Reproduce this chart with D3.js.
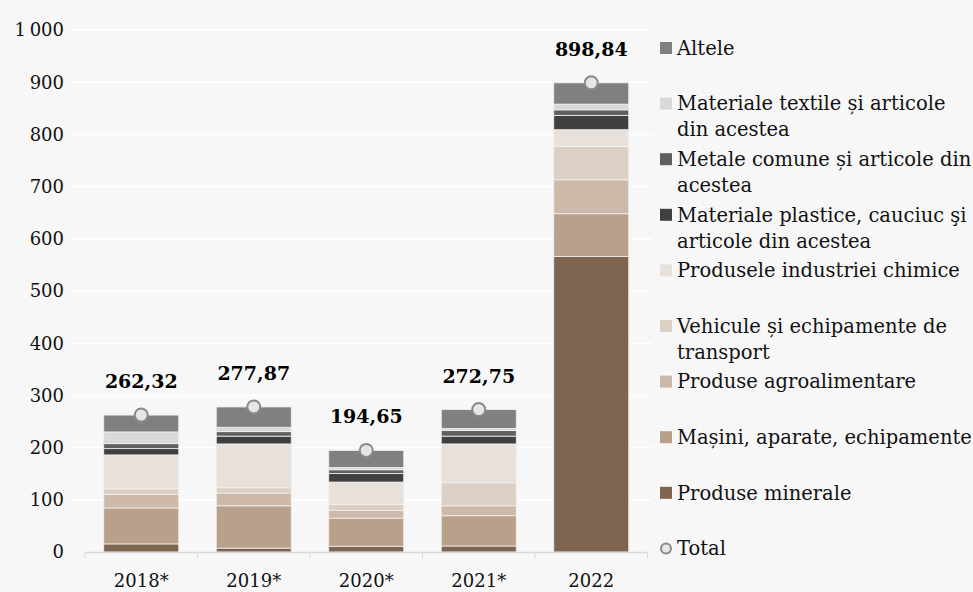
<!DOCTYPE html>
<html>
<head>
<meta charset="utf-8">
<script src="https://cdn.jsdelivr.net/npm/d3@7"></script>
<style>
  body { margin:0; background:#f7f7f7; }
  svg { display:block; font-family:'DejaVu Serif', serif; }
</style>
</head>
<body>
<div id="canvas"></div>
<script>
var years = ['2018*', '2019*', '2020*', '2021*', '2022'];
var totals = [262.32, 277.87, 194.65, 272.75, 898.84];

// stack order, bottom to top
var categories = [
  'Produse minerale',
  'Mașini, aparate, echipamente',
  'Produse agroalimentare',
  'Vehicule și echipamente de transport',
  'Produsele industriei chimice',
  'Materiale plastice, cauciuc şi articole din acestea',
  'Metale comune și articole din acestea',
  'Materiale textile și articole din acestea',
  'Altele'
];
var colors = ['#7f6550', '#b9a08a', '#cdb9aa', '#dccfc4', '#e8e0da', '#404040', '#5f5f5f', '#d9d9d9', '#808080'];

var minerale  = [15.5, 7.5, 11, 11.5, 566];
var masini    = [69, 81, 54, 58, 82];
var agro      = [25.5, 24.5, 14.5, 19, 65];
var vehicule  = [11, 10, 11.5, 44, 64];
var chimice   = [65, 84, 43, 74.5, 32];
var plastice  = [12, 15, 16.5, 15, 27.5];
var metale    = [9.5, 8.5, 7, 11, 10.5];
var textile   = [22.5, 8.5, 4.5, 3.5, 11];
var altele    = [32.3, 38.87, 32.65, 36.25, 40.84];
var series = [minerale, masini, agro, vehicule, chimice, plastice, metale, textile, altele];

var yTicks = [0, 100, 200, 300, 400, 500, 600, 700, 800, 900, 1000];

var W = 973, H = 592;
var svg = d3.select('#canvas').append('svg').attr('width', W).attr('height', H);

var x = d3.scaleBand().domain(years).range([85, 647.5]).paddingInner(1/3).paddingOuter(1/6);
var y = d3.scaleLinear().domain([0, 1000]).range([552, 30]);

// grid
svg.append('g').selectAll('line').data(yTicks.slice(1)).enter().append('line')
  .attr('x1', 70).attr('x2', 652)
  .attr('y1', function(d){ return y(d); }).attr('y2', function(d){ return y(d); })
  .style('stroke', '#ffffff').style('stroke-width', 1.5);

// y axis labels
svg.append('g').selectAll('text').data(yTicks).enter().append('text')
  .attr('x', 64).attr('y', function(d){ return y(d); })
  .attr('dy', '0.35em').attr('text-anchor', 'end')
  .style('font-size', '18px').style('fill', '#111')
  .text(function(d){ return d >= 1000 ? d3.format(',')(d).replace(',', '\u2009') : d; });

// stacked data
var rows = years.map(function(yr, i){
  var r = {year: yr};
  categories.forEach(function(c, k){ r[c] = series[k][i]; });
  return r;
});
var stack = d3.stack().keys(categories)(rows);

svg.append('g').selectAll('g').data(stack).enter().append('g')
  .style('fill', function(d, i){ return colors[i]; })
  .selectAll('rect').data(function(d){ return d; }).enter().append('rect')
  .attr('x', function(d){ return x(d.data.year); })
  .attr('width', x.bandwidth())
  .attr('y', function(d){ return y(d[1]); })
  .attr('height', function(d){ return y(d[0]) - y(d[1]); })
  .style('stroke', '#f3f0ee').style('stroke-width', 0.8);

// x axis
svg.append('line').attr('x1', 85).attr('x2', 647.5).attr('y1', 552.5).attr('y2', 552.5)
  .style('stroke', '#d9d9d9').style('stroke-width', 1.5);
var bounds = years.map(function(d){ return x(d) - x.step() * x.paddingInner() / 2; });
bounds.push(647.5);
svg.append('g').selectAll('line').data(bounds).enter().append('line')
  .attr('x1', function(d){ return d; }).attr('x2', function(d){ return d; })
  .attr('y1', 552).attr('y2', 558)
  .style('stroke', '#d9d9d9').style('stroke-width', 1);
svg.append('g').selectAll('text').data(years).enter().append('text')
  .attr('x', function(d){ return x(d) + x.bandwidth() / 2; })
  .attr('y', 587).attr('text-anchor', 'middle')
  .style('font-size', '18px').style('fill', '#111')
  .text(function(d){ return d; });

// totals
svg.append('g').selectAll('circle').data(totals).enter().append('circle')
  .attr('cx', function(d, i){ return x(years[i]) + x.bandwidth() / 2; })
  .attr('cy', function(d){ return y(d); })
  .attr('r', 6.5)
  .style('fill', '#e6e6e6').style('stroke', '#8a8a8a').style('stroke-width', 2);
svg.append('g').selectAll('text').data(totals).enter().append('text')
  .attr('x', function(d, i){ return x(years[i]) + x.bandwidth() / 2; })
  .attr('y', function(d){ return y(d) - 27; })
  .attr('text-anchor', 'middle')
  .style('font-size', '19px').style('font-weight', 'bold').style('fill', '#000')
  .text(function(d){ return d3.format('.2f')(d).replace('.', ','); });

// legend
var legendItems = categories.map(function(c, i){ return {label: c, color: colors[i]}; }).reverse();
legendItems.push({label: 'Total', total: true});
var lg = svg.append('g').selectAll('g').data(legendItems).enter().append('g')
  .attr('transform', function(d, i){ return 'translate(660,' + (48 + i * 55.6) + ')'; });
lg.filter(function(d){ return !d.total; }).append('rect')
  .attr('x', 0).attr('y', -6).attr('width', 12).attr('height', 12)
  .style('fill', function(d){ return d.color; });
lg.filter(function(d){ return d.total; }).append('circle')
  .attr('cx', 6).attr('cy', 0).attr('r', 5)
  .style('fill', '#e6e6e6').style('stroke', '#8a8a8a').style('stroke-width', 2);
lg.append('text')
  .attr('x', 17).attr('y', 0)
  .style('font-size', '19.5px').style('fill', '#111')
  .each(function(d){
    var t = d3.select(this), words = d.label.split(' '), line = [];
    var ts = t.append('tspan').attr('x', 17).attr('dy', '0.35em');
    words.forEach(function(w){
      line.push(w);
      ts.text(line.join(' '));
      if (ts.node().getComputedTextLength() > 296 && line.length > 1) {
        line.pop();
        ts.text(line.join(' '));
        line = [w];
        ts = t.append('tspan').attr('x', 17).attr('dy', '26px').text(w);
      }
    });
  });
</script>
</body>
</html>
